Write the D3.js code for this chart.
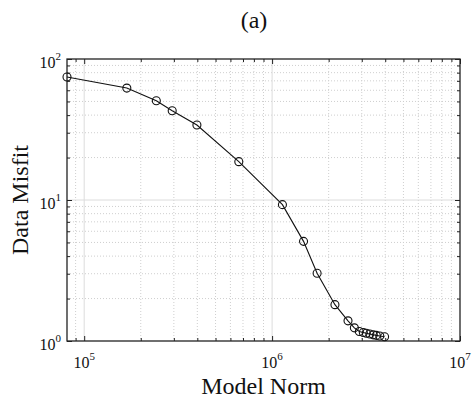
<!DOCTYPE html>
<html><head><meta charset="utf-8">
<script src="https://cdn.jsdelivr.net/npm/d3@7"></script>
<style>body{margin:0;background:#fff}svg{display:block}</style>
</head><body><svg id="c" width="473" height="401" font-family="'Liberation Serif', 'Times New Roman', Times, serif"></svg>
<script>
const modelNorm = [8.1e4, 1.686e5, 2.42e5, 2.94e5, 3.98e5, 6.65e5, 1.135e6, 1.47e6, 1.736e6, 2.16e6, 2.535e6, 2.74e6, 2.912e6, 3.058e6, 3.172e6, 3.311e6, 3.455e6, 3.585e6, 3.742e6, 3.968e6];
const dataMisfit = [74.5, 62.2, 50.6, 43.0, 34.0, 18.7, 9.27, 5.09, 3.02, 1.81, 1.39, 1.24, 1.168, 1.149, 1.134, 1.121, 1.106, 1.096, 1.085, 1.073];
const xMajorTicks = [1e5, 1e6, 1e7];
const xTickExp = ["5", "6", "7"];
const yMajorTicks = [1, 10, 100];
const yTickExp = ["0", "1", "2"];
const xDomain = [8.1e4, 1e7];
const yDomain = [1, 100];
const titleText = "(a)";
const xLabel = "Model Norm";
const yLabel = "Data Misfit";

const FONT = "'Liberation Serif', 'Times New Roman', Times, serif";
const svg = d3.select("#c");
const L = 67, R = 460, T = 59, B = 341;
const x = d3.scaleLog().domain(xDomain).range([L, R]);
const y = d3.scaleLog().domain(yDomain).range([B, T]);

function minors(dom) {
  const out = [];
  for (let e = Math.floor(Math.log10(dom[0])) ; e < Math.ceil(Math.log10(dom[1])); e++)
    for (let k = 2; k <= 9; k++) { const v = k * Math.pow(10, e); if (v > dom[0] * 1.0001 && v < dom[1] * 0.9999) out.push(v); }
  return out;
}
const xMinor = minors(xDomain), yMinor = minors(yDomain);

const g = svg.append("g");
g.selectAll(".xmg").data(xMinor).join("line").attr("x1", d => x(d)).attr("x2", d => x(d)).attr("y1", T).attr("y2", B)
  .attr("stroke", "#cfcfcf").attr("stroke-width", 1).attr("stroke-dasharray", "1,2");
g.selectAll(".ymg").data(yMinor).join("line").attr("y1", d => y(d)).attr("y2", d => y(d)).attr("x1", L).attr("x2", R)
  .attr("stroke", "#cfcfcf").attr("stroke-width", 1).attr("stroke-dasharray", "1,2");
g.selectAll(".xMg").data(xMajorTicks.filter(d => d > xDomain[0] && d < xDomain[1])).join("line").attr("x1", d => x(d)).attr("x2", d => x(d)).attr("y1", T).attr("y2", B)
  .attr("stroke", "#dcdcdc").attr("stroke-width", 1);
g.selectAll(".yMg").data(yMajorTicks.filter(d => d > yDomain[0] && d < yDomain[1])).join("line").attr("y1", d => y(d)).attr("y2", d => y(d)).attr("x1", L).attr("x2", R)
  .attr("stroke", "#dcdcdc").attr("stroke-width", 1);

function ax(axisFn, scale, ticks, size, tr) {
  const a = svg.append("g").attr("transform", tr)
    .call(axisFn(scale).tickValues(ticks).tickSize(size).tickFormat(""));
  a.select(".domain").remove();
  a.selectAll("line").attr("stroke", "#222");
  return a;
}
ax(d3.axisBottom, x, xMajorTicks, -5, `translate(0,${B})`);
ax(d3.axisBottom, x, xMinor, -3, `translate(0,${B})`);
ax(d3.axisTop, x, xMajorTicks, -5, `translate(0,${T})`);
ax(d3.axisTop, x, xMinor, -3, `translate(0,${T})`);
ax(d3.axisLeft, y, yMajorTicks, -5, `translate(${L},0)`);
ax(d3.axisLeft, y, yMinor, -3, `translate(${L},0)`);
ax(d3.axisRight, y, yMajorTicks, -5, `translate(${R},0)`);
ax(d3.axisRight, y, yMinor, -3, `translate(${R},0)`);

svg.append("rect").attr("x", L).attr("y", T).attr("width", R - L).attr("height", B - T)
  .attr("fill", "none").attr("stroke", "#222").attr("stroke-width", 1.3);

function txt(sel) { return sel.attr("font-family", FONT).attr("fill", "#111"); }

xMajorTicks.forEach((v, i) => {
  const t = txt(svg.append("text")).attr("x", x(v)).attr("y", B + 27).attr("text-anchor", "middle").attr("font-size", 16);
  t.append("tspan").text("10");
  t.append("tspan").attr("dy", -8).attr("font-size", 11).text(xTickExp[i]);
});
yMajorTicks.forEach((v, i) => {
  const t = txt(svg.append("text")).attr("x", L - 6).attr("y", y(v) + 9).attr("text-anchor", "end").attr("font-size", 16);
  t.append("tspan").text("10");
  t.append("tspan").attr("dy", -8).attr("font-size", 11).text(yTickExp[i]);
});

const pts = modelNorm.map((m, i) => [m, dataMisfit[i]]);
svg.append("path").datum(pts).attr("fill", "none").attr("stroke", "#111").attr("stroke-width", 1.1)
  .attr("d", d3.line().x(d => x(d[0])).y(d => y(d[1])));
svg.selectAll(".pt").data(pts).join("circle").attr("cx", d => x(d[0])).attr("cy", d => y(d[1])).attr("r", 4)
  .attr("fill", "none").attr("stroke", "#111").attr("stroke-width", 1.1);

txt(svg.append("text")).attr("x", 254).attr("y", 28).attr("text-anchor", "middle").attr("font-size", 24).text(titleText);
txt(svg.append("text")).attr("x", (L + R) / 2).attr("y", 394).attr("text-anchor", "middle").attr("font-size", 24).text(xLabel);
txt(svg.append("text")).attr("transform", `translate(28,${(T + B) / 2}) rotate(-90)`).attr("text-anchor", "middle").attr("font-size", 24).text(yLabel);
</script></body></html>
